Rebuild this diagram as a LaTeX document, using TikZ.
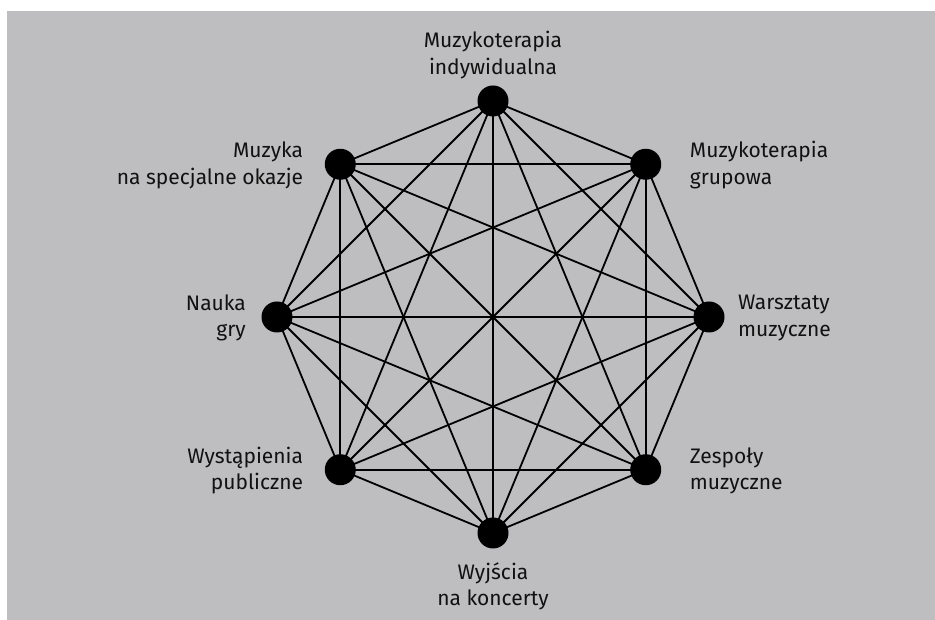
\documentclass[tikz,border=0pt]{standalone}
\usepackage{fontspec}
\setmainfont{Fira Sans}
\definecolor{bg}{HTML}{BEBEC0}
\definecolor{ink}{HTML}{111111}
\begin{document}
\begin{tikzpicture}[x=1pt,y=1pt,
  dot/.style={circle,fill=black,minimum size=31pt,inner sep=0pt},
  lbl/.style={font=\fontsize{21}{26.5}\selectfont,text=ink,inner sep=0pt},
  edge/.style={line width=1.8pt,black}]
\useasboundingbox (0,0) rectangle (935,620);
\fill[bg] (7,0) rectangle (935,609);
\def\cx{493}\def\cy{303}\def\r{216}
\foreach \i in {0,...,7} {
  \coordinate (p\i) at ({\cx+\r*cos(90-45*\i)},{\cy+\r*sin(90-45*\i)});
}
\foreach \i in {0,...,6} {
  \pgfmathtruncatemacro{\s}{\i+1}
  \foreach \j in {\s,...,7} { \draw[edge] (p\i) -- (p\j); }
}
\foreach \i in {0,...,7} { \node[dot] (n\i) at (p\i) {}; }
\node[lbl,align=center,anchor=south] (t0) at ([yshift=22pt]n0.center) {Muzykoterapia\\indywidualna};
\node[lbl,align=left,anchor=west] (t1) at ([xshift=44pt,yshift=-1pt]n1.center) {Muzykoterapia\\grupowa};
\node[lbl,align=left,anchor=west] (t2) at ([xshift=29pt,yshift=-1pt]n2.center) {Warsztaty\\muzyczne};
\node[lbl,align=left,anchor=west] (t3) at ([xshift=44pt,yshift=-1pt]n3.center) {Zespoły\\muzyczne};
\node[lbl,align=center,anchor=north] (t4) at ([yshift=-29pt]n4.center) {Wyjścia\\na koncerty};
\node[lbl,align=right,anchor=east] (t5) at ([xshift=-37pt,yshift=-1pt]n5.center) {Wystąpienia\\publiczne};
\node[lbl,align=right,anchor=east] (t6) at ([xshift=-31pt,yshift=-1pt]n6.center) {Nauka\\gry};
\node[lbl,align=right,anchor=east] (t7) at ([xshift=-37pt,yshift=-1pt]n7.center) {Muzyka\\na specjalne okazje};
\end{tikzpicture}
\end{document}
